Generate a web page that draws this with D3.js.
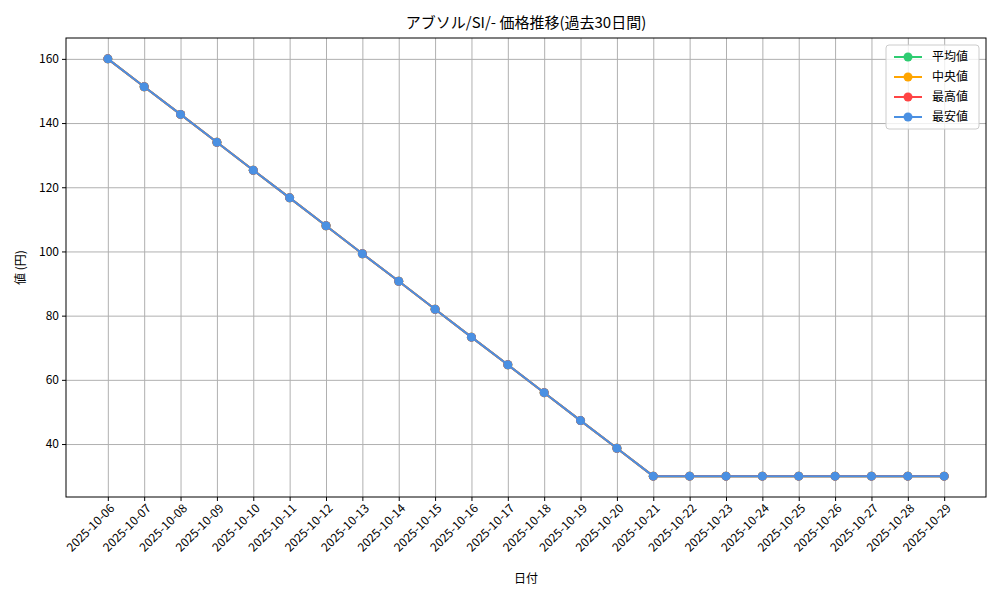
<!DOCTYPE html>
<html><head><meta charset="utf-8">
<script src="https://cdn.jsdelivr.net/npm/d3@7"></script>
<style>body{margin:0;background:#fff}text{font-family:"Noto Sans CJK JP",sans-serif}</style>
</head><body><svg width="1000" height="600"></svg>
<script>
var dates = ["2025-10-06","2025-10-07","2025-10-08","2025-10-09","2025-10-10","2025-10-11","2025-10-12","2025-10-13","2025-10-14","2025-10-15","2025-10-16","2025-10-17","2025-10-18","2025-10-19","2025-10-20","2025-10-21","2025-10-22","2025-10-23","2025-10-24","2025-10-25","2025-10-26","2025-10-27","2025-10-28","2025-10-29"];
var avgValues = [160,151.3,142.7,134,125.3,116.7,108,99.3,90.7,82,73.3,64.7,56,47.3,38.7,30,30,30,30,30,30,30,30,30];
var medianValues = [160,151.3,142.7,134,125.3,116.7,108,99.3,90.7,82,73.3,64.7,56,47.3,38.7,30,30,30,30,30,30,30,30,30];
var maxValues = [160,151.3,142.7,134,125.3,116.7,108,99.3,90.7,82,73.3,64.7,56,47.3,38.7,30,30,30,30,30,30,30,30,30];
var minValues = [160,151.3,142.7,134,125.3,116.7,108,99.3,90.7,82,73.3,64.7,56,47.3,38.7,30,30,30,30,30,30,30,30,30];
var yTicks = [40,60,80,100,120,140,160];

var series = [
  {name: "平均値", values: avgValues, color: "#2ecc71"},
  {name: "中央値", values: medianValues, color: "#ffa500"},
  {name: "最高値", values: maxValues, color: "#ff4444"},
  {name: "最安値", values: minValues, color: "#4a90e2"}
];

var mLeft = 66, mRight = 986, mTop = 38, mBottom = 497;
var svg = d3.select("svg");

var n = dates.length;
var xScale = d3.scaleLinear()
    .domain([-0.05 * (n - 1), (n - 1) * 1.05])
    .range([mLeft, mRight]);
var yScale = d3.scaleLinear()
    .domain([23.5, 166.5])
    .range([mBottom, mTop]);

var xAxis = d3.axisBottom(xScale)
    .tickValues(d3.range(n))
    .tickFormat(i => dates[i])
    .tickSize(-(mBottom - mTop))
    .tickSizeOuter(0);
var yAxis = d3.axisLeft(yScale)
    .tickValues(yTicks)
    .tickSize(-(mRight - mLeft))
    .tickSizeOuter(0);

var gx = svg.append("g").attr("transform", "translate(0," + mBottom + ")").call(xAxis);
gx.selectAll(".tick line").attr("stroke", "#b0b0b0");
gx.selectAll(".tick text")
    .attr("font-size", 12).attr("fill", "#000")
    .attr("text-anchor", "end")
    .attr("x", 0).attr("y", 0).attr("dy", "0.35em")
    .attr("transform", "translate(4,9) rotate(-45)");
gx.select(".domain").remove();

var gy = svg.append("g").attr("transform", "translate(" + mLeft + ",0)").call(yAxis);
gy.selectAll(".tick line").attr("stroke", "#b0b0b0");
gy.selectAll(".tick text").attr("font-size", 12).attr("fill", "#000").attr("x", -7);
gy.select(".domain").remove();

gx.selectAll(".tick").append("line").attr("y1", 0).attr("y2", 4).attr("stroke", "#000");
gy.selectAll(".tick").append("line").attr("x1", 0).attr("x2", -4).attr("stroke", "#000");

svg.append("rect").attr("x", mLeft).attr("y", mTop).attr("width", mRight - mLeft).attr("height", mBottom - mTop)
    .attr("fill", "none").attr("stroke", "#000");

var line = d3.line().x((d, i) => xScale(i)).y(d => yScale(d));
series.forEach(function(s) {
  svg.append("path").datum(s.values).attr("d", line)
      .attr("fill", "none").attr("stroke", s.color).attr("stroke-width", 2);
  svg.append("g").selectAll("circle").data(s.values).enter().append("circle")
      .attr("cx", (d, i) => xScale(i)).attr("cy", d => yScale(d))
      .attr("r", 4.5).attr("fill", s.color);
});

svg.append("text").attr("x", (mLeft + mRight) / 2).attr("y", 28).attr("text-anchor", "middle")
    .attr("font-size", 15).text("アブソル/SI/- 価格推移(過去30日間)");
svg.append("text").attr("x", (mLeft + mRight) / 2).attr("y", 583).attr("text-anchor", "middle")
    .attr("font-size", 12).text("日付");
svg.append("text").attr("transform", "rotate(-90)").attr("x", -(mTop + mBottom) / 2).attr("y", 25)
    .attr("text-anchor", "middle").attr("font-size", 12).text("値 (円)");

var lg = svg.append("g").attr("transform", "translate(886,45)");
lg.append("rect").attr("width", 93).attr("height", 84).attr("rx", 3)
    .attr("fill", "#fff").attr("fill-opacity", 0.8).attr("stroke", "#ccc");
series.forEach(function(s, i) {
  var y = 12 + i * 20;
  lg.append("line").attr("x1", 8).attr("x2", 36).attr("y1", y).attr("y2", y)
      .attr("stroke", s.color).attr("stroke-width", 2);
  lg.append("circle").attr("cx", 22).attr("cy", y).attr("r", 4.5).attr("fill", s.color);
  lg.append("text").attr("x", 46).attr("y", y + 4).attr("font-size", 12).text(s.name);
});
</script></body></html>
